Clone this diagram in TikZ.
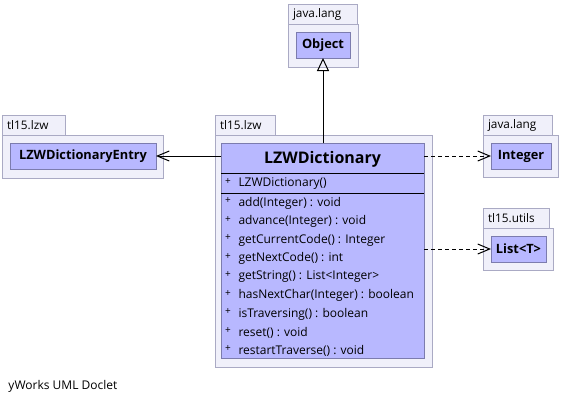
\documentclass[tikz,border=0pt]{standalone}
\usepackage{fontspec}
\setmainfont{Open Sans}
\usetikzlibrary{arrows.meta, positioning, calc}
\definecolor{pkgfill}{HTML}{F0F0FA}
\definecolor{pkgline}{HTML}{AAAAC4}
\definecolor{classfill}{HTML}{B8B8FF}
\definecolor{classline}{HTML}{7C7CAE}
\tikzset{
  pkgtab/.style={
    rectangle, draw=pkgline, fill=pkgfill, anchor=north west, outer sep=0pt,
    minimum height=20pt, inner xsep=5pt, inner ysep=0pt, text width=#1,
    align=left, font=\fontsize{11.8}{13}\selectfont
  },
  pkgbody/.style={
    rectangle, draw=pkgline, fill=pkgfill, outer sep=0pt, inner sep=0pt
  },
  classbox/.style={
    rectangle, draw=classline, fill=classfill, outer sep=0pt, inner sep=0pt,
    minimum height=26pt, font=\fontsize{12.8}{14}\selectfont\bfseries
  },
  member/.style={
    anchor=west, inner sep=0pt, font=\fontsize{12}{13}\selectfont
  },
  plus/.style={
    inner sep=0pt, font=\fontsize{10}{11}\selectfont
  },
  inherit/.style={
    -{Triangle[open, length=13pt, width=12pt]}, black
  },
  assoc/.style={
    -{Straight Barb[length=12pt, width=10pt]}, black
  },
  depend/.style={
    -{Straight Barb[length=12pt, width=10pt]}, black, dash pattern=on 4pt off 3pt
  }
}

\begin{document}
\begin{tikzpicture}[x=1pt, y=-1pt, line width=1pt]
  \useasboundingbox (0,0) rectangle (561,405);

  % java.lang : Object
  \node[pkgtab=59pt] (objtab) at (288,4) {java.lang};
  \node[pkgbody, minimum width=70pt, minimum height=43pt,
        below right=0pt and 0pt of objtab.south west] (objpkg) {};
  \node[classbox, minimum width=54pt,
        below right=8pt and 8pt of objpkg.north west] (object) {Object};

  % tl15.lzw : LZWDictionaryEntry
  \node[pkgtab=53pt] (entrytab) at (2,115) {tl15.lzw};
  \node[pkgbody, minimum width=161pt, minimum height=43pt,
        below right=0pt and 0pt of entrytab.south west] (entrypkg) {};
  \node[classbox, minimum width=146pt,
        below right=8pt and 8pt of entrypkg.north west] (entry) {LZWDictionaryEntry};

  % java.lang : Integer
  \node[pkgtab=59pt] (inttab) at (483,115) {java.lang};
  \node[pkgbody, minimum width=75pt, minimum height=42pt,
        below right=0pt and 0pt of inttab.south west] (intpkg) {};
  \node[classbox, minimum width=60pt,
        below right=8pt and 8pt of intpkg.north west] (integer) {Integer};

  % tl15.utils : List<T>
  \node[pkgtab=56pt] (listtab) at (483,208) {tl15.utils};
  \node[pkgbody, minimum width=70pt, minimum height=42pt,
        below right=0pt and 0pt of listtab.south west] (listpkg) {};
  \node[classbox, minimum width=55pt,
        below right=8pt and 8pt of listpkg.north west] (list) {List<T>};

  % tl15.lzw : LZWDictionary
  \node[pkgtab=50pt] (dicttab) at (215,115) {tl15.lzw};
  \node[pkgbody, minimum width=217pt, minimum height=232pt,
        below right=0pt and 0pt of dicttab.south west] (dictpkg) {};
  \node[classbox, minimum width=203pt, minimum height=215pt,
        below right=8pt and 6pt of dictpkg.north west] (dict) {};
  \node[minimum height=32pt, inner sep=0pt, anchor=north,
        font=\fontsize{16}{18}\selectfont\bfseries] (dictname) at (dict.north) {LZWDictionary};
  \draw ($(dict.north west)+(0,30)$) -- ($(dict.north east)+(0,30)$);
  \draw ($(dict.north west)+(0,50)$) -- ($(dict.north east)+(0,50)$);

  \node[plus] (ctorplus) at ($(dict.north west)+(7,39)$) {+};
  \node[member] (ctor) at ($(dict.north west)+(17,41)$) {LZWDictionary()};
  \foreach \meth [count=\i from 0] in {add(Integer) : void, advance(Integer) : void,
      getCurrentCode() : Integer, getNextCode() : int, getString() : List<Integer>,
      hasNextChar(Integer) : boolean, isTraversing() : boolean, reset() : void,
      restartTraverse() : void} {
    \node[plus] (p\i) at ($(dict.north west)+(7,58+18.5*\i)$) {+};
    \node[member] (m\i) at ($(dict.north west)+(17,60+18.5*\i)$) {\meth};
  }

  % Arrows
  \draw[inherit] (dict.north -| object.south) -- (object.south);
  \draw[assoc] (dict.west |- entry.east) -- (entry.east);
  \draw[depend] (dict.east |- integer.west) -- (integer.west);
  \draw[depend] (dict.east |- list.west) -- (list.west);

  \node[member] (credit) at (8,386) {yWorks UML Doclet};
\end{tikzpicture}
\end{document}
